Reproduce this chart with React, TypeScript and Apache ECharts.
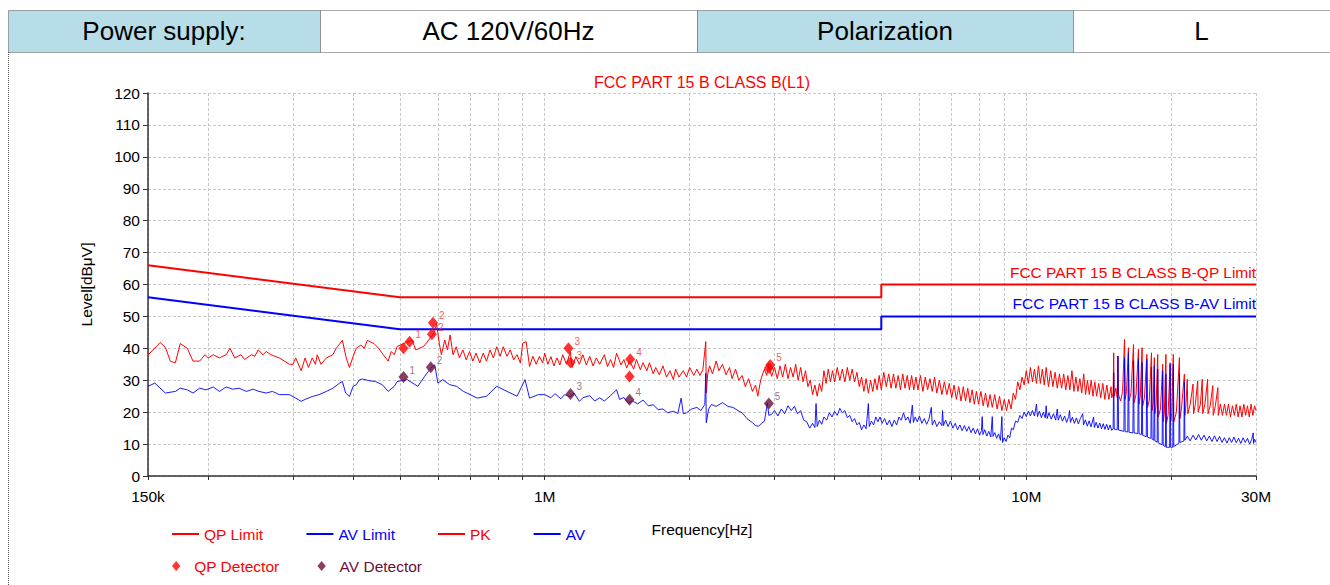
import React, { useEffect, useRef } from 'react';
import * as echarts from 'echarts';

const FONT = '"Liberation Sans", Arial, Helvetica, sans-serif';

// ---------- header table ----------
const headerTexts = ['Power supply:', 'AC 120V/60Hz', 'Polarization', 'L'];
const headerFills = ['#b7dde8', '#ffffff', '#b7dde8', '#ffffff'];
const headerEdges = [8, 320, 697, 1073, 1330];

// ---------- axis ticks ----------
const freqTicks = [
  150000, 200000, 300000, 400000, 500000, 600000, 700000, 800000, 900000,
  1000000, 2000000, 3000000, 4000000, 5000000, 6000000, 7000000, 8000000, 9000000,
  10000000, 20000000, 30000000,
];
const freqLabels = [150000, 1000000, 10000000, 30000000];

// ---------- limits [MHz, dBuV] ----------
const qpLimit: [number, number][] = [[0.15, 66], [0.5, 56], [5, 56], [5, 60], [30, 60]];
const avLimit: [number, number][] = [[0.15, 56], [0.5, 46], [5, 46], [5, 50], [30, 50]];

// ---------- PK trace [MHz, dBuV] ----------
const pkTrace: [number, number][] = [
  [0.15, 37.9], [0.159, 41.8], [0.163, 40.3], [0.167, 35.9], [0.171, 35.5], [0.175, 41.5], [0.181, 40], [0.186, 36],
  [0.192, 36], [0.197, 38], [0.2, 37], [0.205, 38], [0.211, 37], [0.218, 38], [0.222, 40], [0.227, 37], [0.234, 38],
  [0.238, 36.5], [0.246, 38], [0.25, 37.5], [0.254, 39.5], [0.26, 38], [0.264, 39], [0.27, 38], [0.281, 37],
  [0.295, 35], [0.3, 35], [0.304, 37], [0.312, 33], [0.318, 37], [0.323, 34], [0.329, 37], [0.334, 35], [0.337, 38],
  [0.343, 35], [0.352, 37], [0.363, 38], [0.369, 40], [0.38, 42.5], [0.387, 37], [0.393, 34], [0.4, 37.5],
  [0.406, 40], [0.415, 41], [0.422, 40], [0.428, 42.5], [0.442, 41.5], [0.452, 40], [0.462, 38], [0.473, 36],
  [0.48, 39], [0.487, 38], [0.494, 40.6], [0.51, 41.5], [0.53, 42.6], [0.54, 39.5], [0.56, 40.6], [0.57, 42],
  [0.59, 45], [0.596, 47.8], [0.604, 41.6], [0.61, 38], [0.62, 42.6], [0.628, 39.5], [0.636, 44.2], [0.645, 38],
  [0.655, 40.5], [0.665, 37], [0.676, 39.5], [0.687, 36.4], [0.698, 39], [0.709, 36], [0.72, 38.5], [0.733, 35.4],
  [0.745, 38.5], [0.757, 36], [0.77, 39.5], [0.782, 37], [0.795, 40.5], [0.808, 37.5], [0.82, 40.5], [0.835, 37.5],
  [0.848, 39.5], [0.862, 36.4], [0.876, 38], [0.89, 35.4], [0.9, 41.6], [0.915, 42.1], [0.93, 34.3], [0.945, 37.5],
  [0.96, 35], [0.975, 37.5], [0.99, 35.4],
  [1.0, 38.5], [1.015, 35], [1.03, 37.4], [1.045, 34.5], [1.06, 37], [1.075, 34.8], [1.09, 38], [1.11, 35],
  [1.13, 39], [1.14, 34], [1.16, 37.4], [1.18, 35], [1.2, 38], [1.22, 34.8], [1.24, 37.5], [1.26, 34.5],
  [1.28, 37], [1.3, 35], [1.33, 38], [1.35, 34.3], [1.37, 36.5], [1.39, 34], [1.41, 38.5], [1.44, 34.8],
  [1.46, 36.5], [1.48, 33.8], [1.5, 36], [1.53, 33.5], [1.55, 36.5], [1.58, 33.3], [1.6, 35.5], [1.63, 33],
  [1.65, 35.5], [1.68, 32], [1.7, 34], [1.73, 31.7], [1.76, 34.5], [1.79, 31], [1.82, 33], [1.85, 30.2],
  [1.87, 33.5], [1.9, 31], [1.94, 33], [1.97, 31], [2.0, 34], [2.04, 31.5], [2.07, 33.5], [2.1, 31.5],
  [2.13, 33.3], [2.16, 42.1], [2.165, 26], [2.18, 32], [2.2, 34.5], [2.23, 32], [2.27, 36], [2.3, 33],
  [2.34, 35], [2.38, 31.7], [2.42, 34], [2.45, 30.5], [2.49, 33.5], [2.53, 30], [2.57, 31.5], [2.61, 28],
  [2.65, 30.5], [2.7, 26.5], [2.74, 28.5], [2.77, 25], [2.8, 29], [2.82, 31], [2.86, 33.5], [2.89, 31.5],
  [2.92, 34.5], [2.96, 31.2],
  [3.0, 34], [3.04, 30.5], [3.08, 34.5], [3.12, 31], [3.16, 35], [3.2, 30.5], [3.24, 34], [3.28, 31],
  [3.32, 35], [3.36, 30], [3.4, 34], [3.44, 29.5], [3.48, 33], [3.52, 28], [3.56, 30], [3.6, 25.5],
  [3.64, 28.5], [3.68, 25], [3.72, 29], [3.76, 26.5], [3.8, 33], [3.84, 29], [3.88, 33.5], [3.92, 29.5],
  [3.96, 33], [4.0, 29.5], [4.05, 34], [4.1, 30], [4.15, 33.5], [4.2, 29.5], [4.25, 34], [4.3, 30],
  [4.35, 33.5], [4.4, 29.5], [4.45, 32.5], [4.5, 28], [4.55, 31], [4.6, 26.5], [4.65, 30.5], [4.7, 26],
  [4.75, 30], [4.8, 26.5], [4.85, 30.5], [4.9, 27], [4.95, 31.5], [5.0, 27], [5.06, 32.5], [5.12, 28],
  [5.18, 32], [5.24, 27.5], [5.3, 32], [5.36, 27.5], [5.42, 31.5], [5.48, 27], [5.54, 32], [5.6, 27.5],
  [5.66, 31.5], [5.72, 27], [5.78, 31.5], [5.84, 27], [5.9, 31], [5.96, 27], [6.03, 31.5], [6.1, 26.5],
  [6.17, 31], [6.24, 27], [6.31, 30.5], [6.38, 26.5], [6.45, 31], [6.52, 26], [6.6, 30], [6.68, 25.5],
  [6.76, 29.5], [6.84, 25.5], [6.92, 29], [7.0, 24.5], [7.08, 28.5], [7.16, 24], [7.24, 28], [7.32, 23.5],
  [7.4, 28], [7.48, 23.5], [7.56, 27.5], [7.64, 23], [7.72, 27], [7.8, 22.5], [7.88, 26.5], [7.96, 22.5],
  [8.05, 26.5], [8.14, 22], [8.23, 26], [8.32, 21.5], [8.41, 25.5], [8.5, 21.5], [8.6, 25.5], [8.7, 21],
  [8.8, 25], [8.9, 20.5], [9.0, 24], [9.1, 20.5], [9.2, 24], [9.3, 21], [9.4, 26], [9.5, 24],
  [9.6, 29.5], [9.7, 27], [9.8, 31], [9.9, 28.5], [10.0, 33], [10.1, 29], [10.2, 34], [10.3, 29.5],
  [10.4, 33.5], [10.5, 29], [10.6, 34.5], [10.7, 29], [10.8, 33.5], [10.9, 28.5], [11.0, 34], [11.12, 28],
  [11.24, 33], [11.36, 28], [11.48, 32.5], [11.6, 27.5], [11.72, 32], [11.84, 27.5], [11.96, 32], [12.08, 27],
  [12.2, 31.5], [12.32, 27], [12.44, 33], [12.56, 26.5], [12.68, 31], [12.8, 26.5], [12.92, 30.5], [13.04, 26],
  [13.16, 32], [13.28, 25.5], [13.4, 30], [13.52, 25.5], [13.64, 30], [13.76, 25], [13.88, 29.5], [14.0, 25],
  [14.14, 29], [14.28, 24.5], [14.42, 29], [14.56, 24], [14.7, 28.5], [14.84, 24], [15.0, 28],
  [15.05, 24.5], [15.15, 26], [15.19, 38.6], [15.23, 25], [15.35, 27.5], [15.45, 24.5], [15.5, 37.6], [15.55, 25.5],
  [15.7, 23.5], [15.85, 26.5], [16.0, 42.8], [16.05, 24], [16.15, 26.5], [16.3, 40.2], [16.35, 23.5], [16.5, 26],
  [16.7, 41.2], [16.75, 23], [16.9, 25.5], [17.1, 39.7], [17.15, 22.5], [17.25, 25], [17.4, 40.2], [17.45, 22],
  [17.6, 24.5], [17.8, 38.1], [17.85, 21.5], [18.0, 23.5], [18.2, 38.6], [18.25, 20.5], [18.35, 23], [18.45, 37.1],
  [18.5, 19.5], [18.6, 22], [18.75, 38.1], [18.8, 18.5], [19.0, 21], [19.2, 35], [19.25, 17], [19.35, 19.5],
  [19.5, 38.1], [19.55, 16.5], [19.7, 19], [19.9, 35.5], [19.95, 17], [20.05, 19.5], [20.2, 38.1], [20.25, 17],
  [20.5, 20], [20.8, 37.1], [20.85, 18], [21.0, 21], [21.3, 31.9], [21.35, 19], [21.45, 22], [21.6, 30.3],
  [21.65, 19.5], [21.9, 22.5], [22.2, 28.8], [22.25, 19.5], [22.45, 22.5], [22.7, 29.8], [22.75, 20], [23.0, 22.5],
  [23.2, 30.3], [23.25, 19.5], [23.5, 22.5], [23.8, 30.3], [23.85, 19.5], [24.1, 22], [24.4, 28.3], [24.45, 19],
  [24.7, 22], [25.0, 27.7], [25.05, 19], [25.3, 22.5], [25.55, 19], [25.8, 22.5], [26.05, 19], [26.3, 22.5],
  [26.55, 18.5], [26.8, 22], [27.05, 19], [27.3, 22.5], [27.55, 18.5], [27.8, 22], [28.05, 18.5], [28.3, 22.5],
  [28.55, 19], [28.8, 22], [29.05, 18.5], [29.3, 22.5], [29.55, 19], [29.8, 22], [30, 20.5],
];

// ---------- AV trace [MHz, dBuV] ----------
const avTrace: [number, number][] = [
  [0.15, 28.1], [0.155, 29.1], [0.163, 26], [0.171, 26.5], [0.175, 27.5], [0.181, 27], [0.186, 26], [0.192, 27.5],
  [0.198, 27], [0.205, 27.9], [0.211, 26.5], [0.218, 27.9], [0.225, 27.2], [0.232, 27.5], [0.24, 26.5], [0.248, 27.2],
  [0.255, 26.5], [0.264, 26], [0.272, 26.5], [0.281, 25.5], [0.295, 25.5], [0.304, 24.4], [0.312, 23.4], [0.319, 24.1],
  [0.329, 24.9], [0.34, 25.5], [0.352, 26.5], [0.363, 27.5], [0.375, 29.1], [0.38, 29.6], [0.386, 26], [0.393, 24.9],
  [0.4, 28.1], [0.406, 28.6], [0.412, 30.1], [0.418, 30.4], [0.431, 29.9], [0.445, 29.6], [0.46, 28.6], [0.473, 26.5],
  [0.487, 28.1], [0.494, 29.6], [0.518, 30.2], [0.545, 28.1], [0.563, 31.2], [0.58, 33.8], [0.591, 34.8], [0.6, 29.1],
  [0.614, 30.2], [0.635, 28.6], [0.656, 28.1], [0.678, 26.5], [0.7, 25.5], [0.724, 24.4], [0.757, 25], [0.795, 28.1],
  [0.835, 26.5], [0.876, 25], [0.91, 30.2], [0.93, 24.4], [0.97, 25.5],
  [1.0, 25.5], [1.03, 24.5], [1.05, 25.8], [1.08, 24.2], [1.1, 25.5], [1.13, 24.8], [1.15, 26], [1.18, 23.4],
  [1.2, 24.5], [1.24, 25.2], [1.27, 23.5], [1.3, 24.5], [1.33, 23.5], [1.37, 25.2], [1.41, 27], [1.43, 24],
  [1.46, 24.6], [1.49, 22.8], [1.52, 23.5], [1.56, 22.6], [1.6, 23.8], [1.64, 22], [1.68, 22.3], [1.72, 20.8],
  [1.76, 21], [1.8, 19.8], [1.85, 20.3], [1.89, 19.6], [1.92, 24.4], [1.94, 19.5], [1.97, 19.8], [2.02, 21],
  [2.07, 21.5], [2.11, 20.5], [2.15, 22.4], [2.16, 32.2], [2.165, 16.7], [2.19, 21], [2.22, 22.4], [2.27, 21.8],
  [2.34, 23], [2.4, 21.8], [2.46, 21.5], [2.52, 20.5], [2.57, 19.8], [2.63, 18], [2.7, 16.7], [2.74, 15.8],
  [2.78, 15.6], [2.82, 16.5], [2.86, 17.2], [2.9, 22.9], [2.92, 19], [2.96, 19.3],
  [3.0, 20.5], [3.05, 18.8], [3.1, 21], [3.15, 19.5], [3.2, 22], [3.25, 20.5], [3.3, 21.8], [3.35, 19.5],
  [3.4, 20.5], [3.45, 17.5], [3.5, 17], [3.55, 15], [3.6, 16.5], [3.64, 15.2], [3.66, 22.7], [3.68, 15.5],
  [3.72, 17.5], [3.76, 16.2], [3.8, 18.5], [3.85, 17.5], [3.9, 19.8], [3.95, 18.5], [4.0, 20.3], [4.05, 19],
  [4.1, 21.2], [4.15, 19.8], [4.2, 20.5], [4.25, 18.3], [4.3, 19], [4.35, 17], [4.4, 18], [4.45, 16],
  [4.5, 16.8], [4.55, 14.5], [4.6, 16], [4.65, 14.8], [4.7, 22.7], [4.72, 15.5], [4.77, 17.2], [4.82, 16],
  [4.87, 18.5], [4.92, 17], [4.97, 18.5], [5.02, 16.5], [5.08, 18], [5.14, 16], [5.2, 17.5], [5.26, 15.5],
  [5.32, 17.5], [5.38, 16], [5.44, 18.5], [5.5, 17.5], [5.56, 19.8], [5.62, 17.5], [5.68, 18.5], [5.74, 16.5],
  [5.8, 22.2], [5.83, 16.8], [5.88, 18.5], [5.94, 17], [6.0, 18.8], [6.07, 16.5], [6.14, 18], [6.21, 16.2],
  [6.28, 17.8], [6.35, 21.5], [6.38, 16], [6.45, 17.5], [6.52, 15.5], [6.6, 17], [6.68, 15.8], [6.7, 20.5],
  [6.73, 15.8], [6.8, 17.5], [6.88, 15.5], [6.96, 17.2], [7.04, 15], [7.12, 16.5], [7.2, 14.5], [7.28, 16],
  [7.36, 14.2], [7.44, 15.8], [7.52, 14], [7.6, 15.5], [7.68, 13.6], [7.76, 15], [7.84, 13.2], [7.92, 14.8],
  [8.0, 12.8], [8.07, 14.2], [8.1, 18.6], [8.13, 13], [8.2, 14.5], [8.28, 12.5], [8.36, 14], [8.44, 12.2],
  [8.5, 18.6], [8.53, 12.4], [8.6, 13.6], [8.68, 11.8], [8.76, 13.2], [8.84, 11.2], [8.9, 18.6], [8.93, 10.5],
  [9.0, 12], [9.08, 10.8], [9.16, 12.8], [9.24, 12], [9.32, 15], [9.4, 14.5], [9.5, 17.2], [9.6, 16.8],
  [9.7, 19], [9.8, 18], [9.9, 20], [10.0, 18.6], [10.1, 20.3], [10.2, 18.8], [10.3, 20.5], [10.4, 18.8],
  [10.5, 22.5], [10.55, 18.6], [10.65, 20.3], [10.75, 18.3], [10.85, 20], [10.95, 18.2], [11.0, 22], [11.05, 18],
  [11.15, 19.8], [11.27, 17.8], [11.39, 19.5], [11.51, 17.5], [11.6, 21], [11.65, 17.5], [11.77, 19.2], [11.89, 17.2],
  [12.01, 18.8], [12.13, 16.8], [12.25, 18.6], [12.3, 20.5], [12.35, 16.8], [12.47, 18.4], [12.59, 16.5], [12.71, 18.2],
  [12.83, 16.3], [12.95, 18], [13.1, 19.5], [13.15, 16], [13.27, 17.6], [13.39, 15.6], [13.51, 17.3], [13.63, 15.4],
  [13.8, 18.5], [13.85, 15.2], [13.97, 16.8], [14.09, 15], [14.21, 16.6], [14.33, 14.8], [14.45, 16.4], [14.57, 14.6],
  [14.69, 16.2], [14.81, 14.4], [14.93, 16], [15.05, 14.3],
  [15.15, 14.8], [15.19, 32.4], [15.23, 14.7], [15.45, 14.5], [15.5, 37.6], [15.55, 14.4], [15.95, 14], [16.0, 37.1],
  [16.05, 13.9], [16.25, 13.8], [16.3, 38.6], [16.35, 13.7], [16.65, 13.5], [16.7, 36.1], [16.75, 13.5], [17.05, 13.3],
  [17.1, 36.6], [17.15, 13.2], [17.35, 13], [17.4, 35.5], [17.45, 12.8], [17.75, 12.3], [17.8, 36.6], [17.85, 12.2],
  [18.15, 11.8], [18.2, 34], [18.25, 11.6], [18.4, 11.2], [18.45, 34.5], [18.5, 11], [18.7, 10.6], [18.75, 33.5],
  [18.8, 10.4], [19.15, 9.8], [19.2, 33], [19.25, 9.6], [19.45, 9.2], [19.5, 32], [19.55, 9], [19.85, 9],
  [19.9, 35], [19.95, 9], [20.15, 9], [20.2, 35], [20.25, 9.2], [20.75, 10.3], [20.8, 32], [20.85, 10.5],
  [21.25, 11], [21.3, 29.3], [21.35, 11.2], [21.6, 12.5], [21.9, 11], [22.2, 12.8], [22.5, 11.3], [22.8, 13],
  [23.1, 11.2], [23.4, 12.8], [23.7, 11], [24.0, 12.5], [24.3, 10.8], [24.6, 12.6], [24.9, 10.8], [25.2, 12.4],
  [25.5, 10.5], [25.8, 12], [26.1, 10.3], [26.4, 12], [26.7, 10.5], [27.0, 12.2], [27.3, 10.4], [27.6, 11.8],
  [27.9, 10.2], [28.2, 12], [28.5, 10.5], [28.8, 11.8], [29.1, 10], [29.4, 11.5], [29.6, 13.5], [29.65, 10.2],
  [29.8, 11.5], [30, 10.5],
];

// ---------- detector readings [MHz, dBuV] ----------
const qpDetector: [number, number][] = [
  [0.509, 40.0], [0.524, 42.1], [0.583, 44.4], [0.586, 48.0], [1.12, 40.0],
  [1.131, 35.6], [1.505, 36.6], [1.5, 31.2], [2.92, 33.8], [2.94, 34.8],
];
const qpDetectorLabels = ['', '1', '2', '2', '3', '3', '4', '', '', '5'];
const avDetector: [number, number][] = [
  [0.509, 31.0], [0.58, 34.1], [1.131, 25.7], [1.5, 23.9], [2.92, 22.7],
];
const avDetectorLabels = ['1', '2', '3', '4', '5'];

const RED = '#ff0000';
const BLUE = '#0000ff';
const MAROON = '#6b0f3a';

const toHz = (p: [number, number]) => [p[0] * 1e6, p[1]];

function fmtFreq(v: number) {
  const r = Math.round(v);
  if (r >= 1e6) return `${Math.round(r / 1e5) / 10}M`;
  return `${Math.round(r / 1e3)}k`;
}

function limitData(arr: [number, number][], text: string, color: string, distance: number) {
  return arr.map((p, i) =>
    i === arr.length - 1
      ? {
          value: toHz(p),
          label: {
            show: true,
            position: 'top',
            align: 'right',
            distance,
            formatter: text,
            color,
            fontSize: 15.5,
            fontFamily: FONT,
          },
        }
      : { value: toHz(p) }
  );
}

function buildOption() {
  const graphic: any[] = [];
  for (let i = 0; i < headerTexts.length; i++) {
    const x0 = headerEdges[i];
    const x1 = headerEdges[i + 1];
    graphic.push({
      type: 'rect',
      shape: { x: x0 + 0.5, y: 10.5, width: x1 - x0, height: 42 },
      style: { fill: headerFills[i], stroke: '#555', lineWidth: 1, lineDash: [1, 1] },
      silent: true,
    });
    graphic.push({
      type: 'text',
      x: (x0 + x1) / 2,
      y: 31,
      style: {
        text: headerTexts[i],
        fill: '#000',
        fontSize: 26,
        fontFamily: FONT,
        align: 'center',
        verticalAlign: 'middle',
      },
      silent: true,
    });
  }
  graphic.push({
    type: 'line',
    shape: { x1: 8.5, y1: 52, x2: 8.5, y2: 585 },
    style: { stroke: '#555', lineWidth: 1, lineDash: [1, 1] },
    silent: true,
  });
  graphic.push({
    type: 'text',
    x: 702,
    y: 82,
    style: {
      text: 'FCC PART 15 B CLASS B(L1)',
      fill: RED,
      fontSize: 16,
      fontFamily: FONT,
      align: 'center',
      verticalAlign: 'middle',
    },
    silent: true,
  });

  return {
    animation: false,
    backgroundColor: '#ffffff',
    textStyle: { fontFamily: FONT },
    grid: { left: 148, top: 93, right: 74, bottom: 109, containLabel: false },
    graphic,
    legend: [
      {
        left: 167,
        top: 521,
        icon: 'rect',
        itemWidth: 27,
        itemHeight: 2,
        itemGap: 43,
        selectedMode: false,
        textStyle: { fontSize: 15.5, fontFamily: FONT },
        data: [
          { name: 'QP Limit', textStyle: { color: RED } },
          { name: 'AV Limit', textStyle: { color: BLUE } },
          { name: 'PK', textStyle: { color: RED } },
          { name: 'AV', textStyle: { color: BLUE } },
        ],
      },
      {
        left: 167,
        top: 553,
        icon: 'path://M5,0 L10,6 L5,12 L0,6 Z',
        itemWidth: 26,
        itemHeight: 10,
        itemGap: 38,
        selectedMode: false,
        textStyle: { fontSize: 15.5, fontFamily: FONT },
        data: [
          { name: 'QP Detector', textStyle: { color: RED } },
          { name: 'AV Detector', textStyle: { color: MAROON } },
        ],
      },
    ],
    xAxis: {
      type: 'log',
      logBase: 10,
      min: 150000,
      max: 30000000,
      name: 'Frequency[Hz]',
      nameLocation: 'middle',
      nameGap: 45,
      nameTextStyle: { color: '#000', fontSize: 15.5, fontFamily: FONT },
      axisLine: { show: true, lineStyle: { color: '#333', width: 1.5 } },
      axisTick: { show: true, customValues: freqTicks, length: 4, lineStyle: { color: '#333' } },
      axisLabel: {
        customValues: freqLabels,
        formatter: (v: number) => fmtFreq(v),
        color: '#000',
        fontSize: 15.5,
        fontFamily: FONT,
        margin: 12,
        showMinLabel: true,
        showMaxLabel: true,
      },
      splitLine: { show: true, lineStyle: { color: '#c8c8c8', type: [3, 2], width: 1 } },
      minorTick: { show: false },
    },
    yAxis: {
      type: 'value',
      min: 0,
      max: 120,
      interval: 10,
      name: 'Level[dBμV]',
      nameLocation: 'middle',
      nameGap: 54,
      nameRotate: 90,
      nameTextStyle: { color: '#000', fontSize: 15.5, fontFamily: FONT },
      axisLine: { show: true, lineStyle: { color: '#333', width: 1.5 } },
      axisTick: { show: true, length: 5, lineStyle: { color: '#333' } },
      axisLabel: { color: '#000', fontSize: 15.5, fontFamily: FONT, margin: 8 },
      splitLine: { show: true, lineStyle: { color: '#c8c8c8', type: [3, 2], width: 1 } },
    },
    series: [
      {
        name: 'QP Limit',
        type: 'line',
        data: limitData(qpLimit, 'FCC PART 15 B CLASS B-QP Limit', RED, 4),
        symbol: 'circle',
        symbolSize: 0,
        showSymbol: true,
        lineStyle: { color: RED, width: 2 },
        itemStyle: { color: RED },
        silent: true,
        z: 2,
      },
      {
        name: 'AV Limit',
        type: 'line',
        data: limitData(avLimit, 'FCC PART 15 B CLASS B-AV Limit', BLUE, 5),
        symbol: 'circle',
        symbolSize: 0,
        showSymbol: true,
        lineStyle: { color: BLUE, width: 2 },
        itemStyle: { color: BLUE },
        silent: true,
        z: 2,
      },
      {
        name: 'PK',
        type: 'line',
        data: pkTrace.map(toHz),
        showSymbol: false,
        symbol: 'none',
        lineStyle: { color: RED, width: 1 },
        itemStyle: { color: RED },
        silent: true,
        z: 3,
      },
      {
        name: 'AV',
        type: 'line',
        data: avTrace.map(toHz),
        showSymbol: false,
        symbol: 'none',
        lineStyle: { color: BLUE, width: 1, opacity: 0.9 },
        itemStyle: { color: BLUE },
        silent: true,
        z: 4,
      },
      {
        name: 'QP Detector',
        type: 'scatter',
        symbol: 'diamond',
        symbolSize: [10, 12],
        itemStyle: { color: RED },
        label: { show: false, position: 'right', distance: 1, offset: [0, -7], color: '#ff3030', fontSize: 10, fontFamily: FONT },
        data: qpDetector.map((p, i) => ({
          value: toHz(p),
          label: { show: qpDetectorLabels[i] !== '', formatter: qpDetectorLabels[i] },
        })),
        silent: true,
        z: 5,
      },
      {
        name: 'AV Detector',
        type: 'scatter',
        symbol: 'diamond',
        symbolSize: [10, 12],
        itemStyle: { color: MAROON },
        label: { show: true, position: 'right', distance: 1, offset: [0, -7], color: '#8b4a72', fontSize: 10, fontFamily: FONT },
        data: avDetector.map((p, i) => ({
          value: toHz(p),
          label: { show: true, formatter: avDetectorLabels[i] },
        })),
        silent: true,
        z: 5,
      },
    ],
  };
}

export default function App() {
  const ref = useRef<HTMLDivElement>(null);
  useEffect(() => {
    if (!ref.current) return;
    const chart = echarts.init(ref.current, null, { renderer: 'svg' });
    chart.setOption(buildOption() as any);
    return () => chart.dispose();
  }, []);
  return (
    <div style={{ position: 'fixed', left: 0, top: 0, width: 1330, height: 585, background: '#fff' }}>
      <div ref={ref} style={{ width: 1330, height: 585 }} />
    </div>
  );
}
